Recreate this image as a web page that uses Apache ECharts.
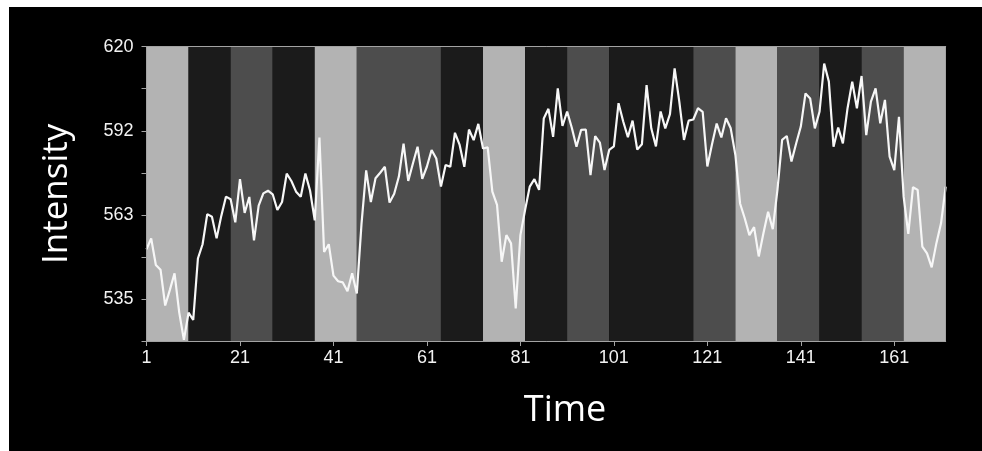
<!DOCTYPE html>
<html><head><meta charset="utf-8">
<script src="https://cdn.jsdelivr.net/npm/echarts@6/dist/echarts.min.js"></script>
<style>
html,body{margin:0;padding:0;background:#fff;width:982px;height:451px;overflow:hidden}
#chart{position:absolute;left:9px;top:7px;width:973px;height:444px;background:#000}
</style>
</head><body><div id="chart"></div>
<script>
// ---- data ----
const time = Array.from({length: 172}, (_, i) => i + 1);
const intensity = [
551.5,555.2,546.2,544.6,532.5,537.8,543.4,530.2,520.9,530.1,
527.6,548.4,553.2,563.4,562.5,555.2,562.8,569.3,568.4,560.6,
575.2,563.8,569.2,554.5,566.3,570.4,571.3,570.1,564.8,567.5,
577.1,574.6,571.0,569.3,577.1,571.3,561.3,589.3,550.6,553.2,
542.6,540.7,540.3,537.3,543.4,536.6,560.0,578.2,567.5,575.5,
577.4,579.4,567.3,570.3,576.1,587.2,574.6,580.5,586.2,575.3,
579.5,585.1,582.2,572.7,580.0,579.4,590.9,586.8,579.4,592.0,
588.4,593.9,585.6,586.0,571.0,566.5,547.3,556.3,553.5,531.5,
556.3,564.8,572.7,575.2,571.6,595.7,599.0,589.5,605.9,593.2,
598.1,592.6,586.2,591.9,592.0,576.6,589.8,587.6,578.3,585.1,
586.3,600.9,594.7,589.4,595.0,585.2,587.0,607.0,592.4,586.3,
598.1,592.4,597.2,612.7,601.4,588.5,595.0,595.4,599.2,598.0,
579.5,587.0,594.0,589.3,595.8,592.4,583.4,567.0,562.0,556.3,
559.0,549.1,556.9,564.2,558.3,571.6,588.5,589.8,581.2,587.3,
593.0,604.2,602.5,592.4,598.0,614.3,608.2,586.2,592.7,587.3,
599.2,608.2,599.2,610.1,590.1,601.4,605.9,594.1,602.0,582.8,
578.3,596.3,569.3,556.7,572.5,571.6,552.4,550.1,545.4,553.5,
560.3,572.7
];
const yTickLabels = ['535', '563', '592', '620'];
const bandEdges = [1,10,19,28,37,46,55,64,73,82,91,100,109,118,127,136,145,154,163,172];
const bandConditions = ['light','dark','mid','dark','light','mid','mid','dark','light','dark',
                        'mid','dark','dark','mid','light','mid','dark','mid','light'];

// ---- styles ----
const bandColor = {light: '#b3b3b3', dark: '#1b1b1b', mid: '#4d4d4d'};
const yMin = 520.5, yMax = 620, yStep = (yMax - yMin) / 7;
const axisGray = '#a3a3a3';

// merge adjacent identical bands
const areas = [];
for (let i = 0; i < bandConditions.length; i++) {
  const s = bandEdges[i], e = bandEdges[i + 1], c = bandConditions[i];
  const last = areas[areas.length - 1];
  if (last && last.c === c) last.e = e; else areas.push({s, e, c});
}

const chart = echarts.init(document.getElementById('chart'), null, {renderer: 'canvas'});
chart.setOption({
  backgroundColor: '#000',
  animation: false,
  grid: {left: 137.5, top: 39.7, width: 799.2, height: 294.3, containLabel: false},
  xAxis: [{
    type: 'category', data: time, boundaryGap: false, z: 10,
    axisLine: {lineStyle: {color: axisGray, width: 1}},
    axisTick: {interval: 19, length: 5, lineStyle: {color: axisGray}},
    axisLabel: {interval: 19, color: '#f2f2f2', fontFamily: 'Liberation Sans', fontSize: 18, margin: 8},
    splitLine: {show: false},
    name: 'Time', nameLocation: 'middle', nameGap: 52,
    nameTextStyle: {color: '#fff', fontFamily: 'Open Sans', fontSize: 36, padding: [0, 0, 0, 38]}
  }, {
    type: 'value', min: 1, max: 172, position: 'top', z: 10,
    axisLine: {show: true, lineStyle: {color: axisGray, width: 1}},
    axisTick: {show: false}, axisLabel: {show: false}, splitLine: {show: false}
  }],
  yAxis: [{
    type: 'value', min: yMin, max: yMax, interval: yStep, z: 10,
    axisLine: {show: true, lineStyle: {color: axisGray, width: 1}},
    axisTick: {show: true, length: 5, lineStyle: {color: axisGray}},
    axisLabel: {
      color: '#f2f2f2', fontFamily: 'Liberation Sans', fontSize: 18, margin: 13,
      formatter: function (v) {
        const k = (v - yMin) / yStep, r = Math.round(k);
        if (Math.abs(k - r) < 0.01 && r % 2 === 1) return yTickLabels[(r - 1) / 2];
        return '';
      }
    },
    splitLine: {show: false},
    name: 'Intensity', nameLocation: 'middle', nameRotate: 90, nameGap: 72,
    nameTextStyle: {color: '#fff', fontFamily: 'Open Sans', fontSize: 35, padding: [0, 0, 0, 0]}
  }, {
    type: 'value', min: yMin, max: yMax, position: 'right', z: 10,
    axisLine: {show: true, lineStyle: {color: axisGray, width: 1}},
    axisTick: {show: false}, axisLabel: {show: false}, splitLine: {show: false}
  }],
  series: [{
    type: 'line', xAxisIndex: 1, yAxisIndex: 0, z: 1,
    data: [[1, yMin]], symbol: 'none', lineStyle: {opacity: 0}, silent: true,
    markArea: {
      silent: true,
      data: areas.map(a => [{xAxis: a.s, itemStyle: {color: bandColor[a.c], borderWidth: 0}}, {xAxis: a.e}])
    }
  }, {
    type: 'line', xAxisIndex: 0, yAxisIndex: 0, z: 5,
    data: intensity, symbol: 'none', smooth: false,
    lineStyle: {color: '#f7f7f7', width: 2.2}
  }]
});
</script>
</body></html>
